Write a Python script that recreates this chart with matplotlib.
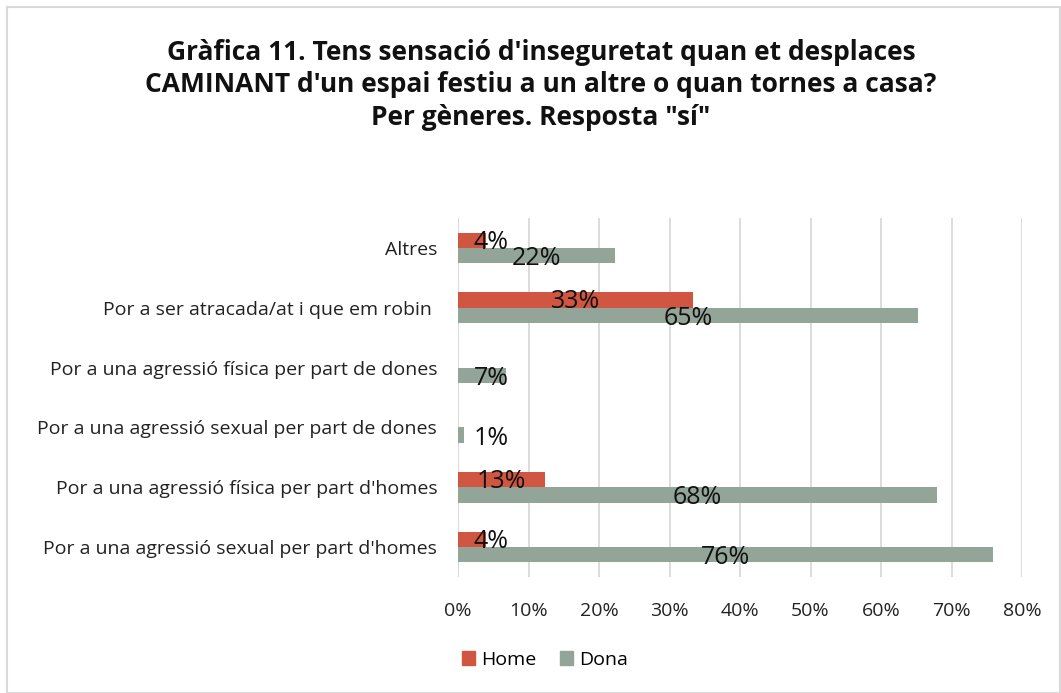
import matplotlib.pyplot as plt
from matplotlib.patches import Rectangle
from matplotlib.ticker import PercentFormatter

plt.rcParams['font.family'] = ['Open Sans', 'DejaVu Sans']

categories = ["Por a una agressió sexual per part d'homes",
              "Por a una agressió física per part d'homes",
              "Por a una agressió sexual per part de dones",
              "Por a una agressió física per part de dones",
              "Por a ser atracada/at i que em robin ",
              "Altres"]
home = [0.04, 0.123, None, None, 0.333, 0.04]
dona = [0.759, 0.68, 0.009, 0.068, 0.652, 0.223]
home_labels = ['4%', '13%', '', '', '33%', '4%']
dona_labels = ['76%', '68%', '1%', '7%', '65%', '22%']

c_home = '#D05641'
c_dona = '#93A498'

fig = plt.figure(figsize=(10.61, 6.93), dpi=100)
ax = fig.add_axes([458/1061, 1 - 577/693, (1022-458)/1061, (577-218)/693])

h = 0.255
y = list(range(len(categories)))
for i in y:
    if home[i] is not None:
        ax.barh(i + h/2, home[i], height=h, color=c_home, zorder=2)
    ax.barh(i - h/2, dona[i], height=h, color=c_dona, zorder=2)

min_x = 0.047
for i in y:
    if home[i] is not None:
        ax.text(max(home[i]/2, min_x), i + h/2 - 0.03, home_labels[i], ha='center', va='center',
                fontsize=18, color='#111111', zorder=3)
    ax.text(max(dona[i]/2, min_x), i - h/2 - 0.05, dona_labels[i], ha='center', va='center',
            fontsize=18, color='#111111', zorder=3)

ax.set_xlim(0, 0.8)
ax.set_ylim(-0.5, len(categories) - 0.5)
ax.set_xticks([k/10 for k in range(9)])
ax.xaxis.set_major_formatter(PercentFormatter(1.0, decimals=0))
ax.set_yticks(y)
ax.set_yticklabels(categories)
ax.tick_params(axis='both', length=0, labelsize=14, colors='#222222')
ax.tick_params(axis='x', pad=18)
ax.tick_params(axis='y', pad=15)
ax.grid(axis='x', color='#D9D9D9', linewidth=1.3, zorder=0)
ax.set_axisbelow(True)
for s in ax.spines.values():
    s.set_visible(False)
ax.axvline(0, color='#D9D9D9', linewidth=1.3, zorder=1)

fig.text(541/1061, 1 - 85/693,
         "Gràfica 11. Tens sensació d'inseguretat quan et desplaces\n"
         "CAMINANT d'un espai festiu a un altre o quan tornes a casa?\n"
         "Per gèneres. Resposta \"sí\"",
         ha='center', va='center', fontsize=19, fontweight='bold',
         linespacing=1.28, color='#111111')

hp = Rectangle((0, 0), 1, 1, color=c_home)
dp = Rectangle((0, 0), 1, 1, color=c_dona)
fig.legend([hp, dp], ['Home', 'Dona'], loc='center', bbox_to_anchor=(545/1061, 1 - 660/693),
           ncol=2, frameon=False, fontsize=14, handlelength=0.7, handleheight=0.7,
           handletextpad=0.3, columnspacing=1.2)

fig.patches.append(Rectangle((7/1061, 0), 1 - 7/1061 - 0.001, 1 - 7/693, transform=fig.transFigure,
                             fill=False, edgecolor='#D9D9D9', linewidth=1.5))

fig.savefig('out.png', dpi=100)
